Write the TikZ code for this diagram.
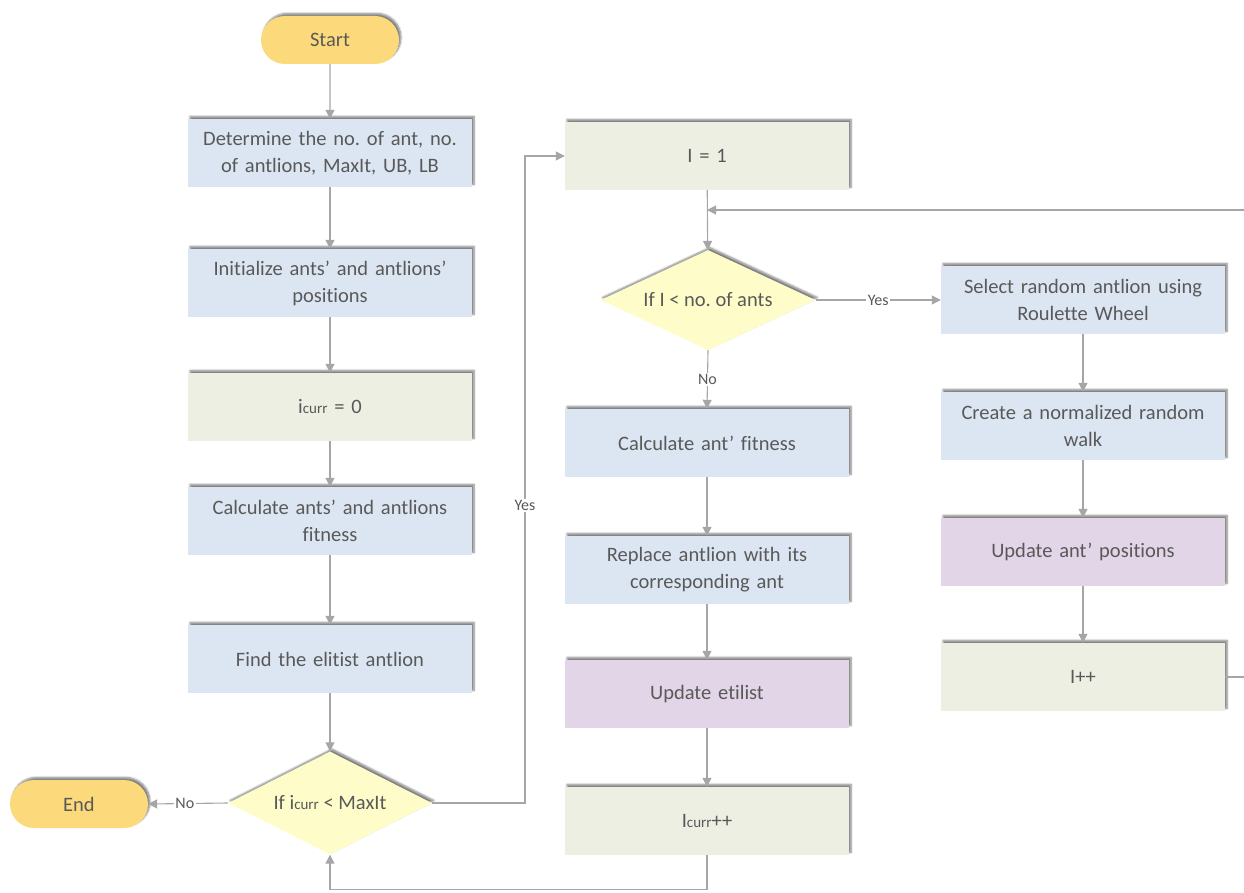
\documentclass[tikz,border=0pt]{standalone}
\usepackage{fontspec}
\setmainfont{Carlito}[Ligatures=NoCommon]
\usetikzlibrary{shapes.geometric,shapes.misc,arrows.meta,shadows.blur}
\definecolor{txt}{HTML}{595959}
\definecolor{ln}{HTML}{A6A6A6}
\definecolor{bluef}{HTML}{DCE6F2}
\definecolor{beigef}{HTML}{EEEFE3}
\definecolor{purplef}{HTML}{E2D5E7}
\definecolor{yellowf}{HTML}{FEFDCA}
\definecolor{goldf}{HTML}{FCDA7C}
\newcommand{\sbs}[1]{{\fontsize{15}{15}\selectfont #1}}
\tikzset{
  basefont/.style={text=txt,font=\fontsize{20.5}{27}\selectfont\frenchspacing,align=center},
  shad/.style={blur shadow={shadow xshift=2pt,shadow yshift=2.5pt,shadow blur steps=6,shadow opacity=50}},
  proc/.style={basefont,rectangle,minimum width=284pt,minimum height=68pt,text width=268pt,inner sep=0pt,shad},
  bluebox/.style={proc,fill=bluef},
  beigebox/.style={proc,fill=beigef},
  purplebox/.style={proc,fill=purplef},
  term/.style={basefont,rounded rectangle,fill=goldf,minimum width=138pt,minimum height=48pt,inner sep=0pt,shad},
  dec/.style={diamond,fill=yellowf,inner sep=0pt,shad},
  conn/.style={draw=ln,line width=1.1pt,-{Triangle[length=9pt,width=9pt]}},
  plain/.style={draw=ln,line width=1.1pt},
  lbl/.style={text=txt,font=\fontsize{16}{16}\selectfont,fill=white,inner sep=1.5pt}
}
\begin{document}
\begin{tikzpicture}[x=1pt,y=-1pt]
\useasboundingbox (0,0) rectangle (1244,893);
% left column
\node[term] (start) at (330,40) {Start};
\node[bluebox] (b1) at (330,153) {Determine the no. of ant, no.\\of antlions, MaxIt, UB, LB};
\node[bluebox] (b2) at (330,283) {Initialize ants’ and antlions’\\positions};
\node[beigebox] (b3) at (330,407) {i\sbs{curr} = 0};
\node[bluebox] (b4) at (330,521) {Calculate ants’ and antlions\\fitness};
\node[bluebox] (b5) at (330,659) {Find the elitist antlion};
\node[dec,minimum width=204pt,minimum height=103pt,label={[basefont]center:If i\sbs{curr} < MaxIt}] (d1) at (330,803) {};
\node[term] (end) at (79,804) {End};
% middle column
\node[beigebox] (i1) at (707,156) {I = 1};
\node[dec,minimum width=215pt,minimum height=100pt,label={[basefont]center:If I < no. of ants}] (d2) at (708,300) {};
\node[bluebox] (c1) at (707,443) {Calculate ant’ fitness};
\node[bluebox] (c2) at (707,570) {Replace antlion with its\\corresponding ant};
\node[purplebox] (c3) at (707,694) {Update etilist};
\node[beigebox] (c4) at (707,821) {I\sbs{curr}++};
% right column
\node[bluebox] (r1) at (1083,300) {Select random antlion using\\Roulette Wheel};
\node[bluebox] (r2) at (1083,426) {Create a normalized random\\walk};
\node[purplebox] (r3) at (1083,552) {Update ant’ positions};
\node[beigebox] (r4) at (1083,677) {I++};
% edge coordinates
\coordinate (rin) at (1244,210);
\coordinate (rout) at (1244,677);
\coordinate (yesx) at (525,803);
% connectors
\draw[conn] (start) -- (b1);
\draw[conn] (b1) -- (b2);
\draw[conn] (b2) -- (b3);
\draw[conn] (b3) -- (b4);
\draw[conn] (b4) -- (b5);
\draw[conn] (b5) -- (d1);
\draw[conn] (d1.west) -- node[lbl,pos=0.54]{No} (end.east);
\draw[conn] (d1.east) -- (yesx) |- node[lbl,pos=0.23]{Yes} (i1.west);
\draw[conn] (i1) -- (d2);
\draw[conn] (rin) -- (i1.south |- rin);
\draw[conn] (d2.east) -- node[lbl,pos=0.5]{Yes} (r1.west);
\draw[conn] (d2.south) -- node[lbl,pos=0.5]{No} (c1.north);
\draw[conn] (c1) -- (c2);
\draw[conn] (c2) -- (c3);
\draw[conn] (c3) -- (c4);
\draw[conn] (c4.south) -- ++(0,34) -| (d1.south);
\draw[conn] (r1) -- (r2);
\draw[conn] (r2) -- (r3);
\draw[conn] (r3) -- (r4);
\draw[plain] (r4.east) -- (rout);
\end{tikzpicture}
\end{document}
